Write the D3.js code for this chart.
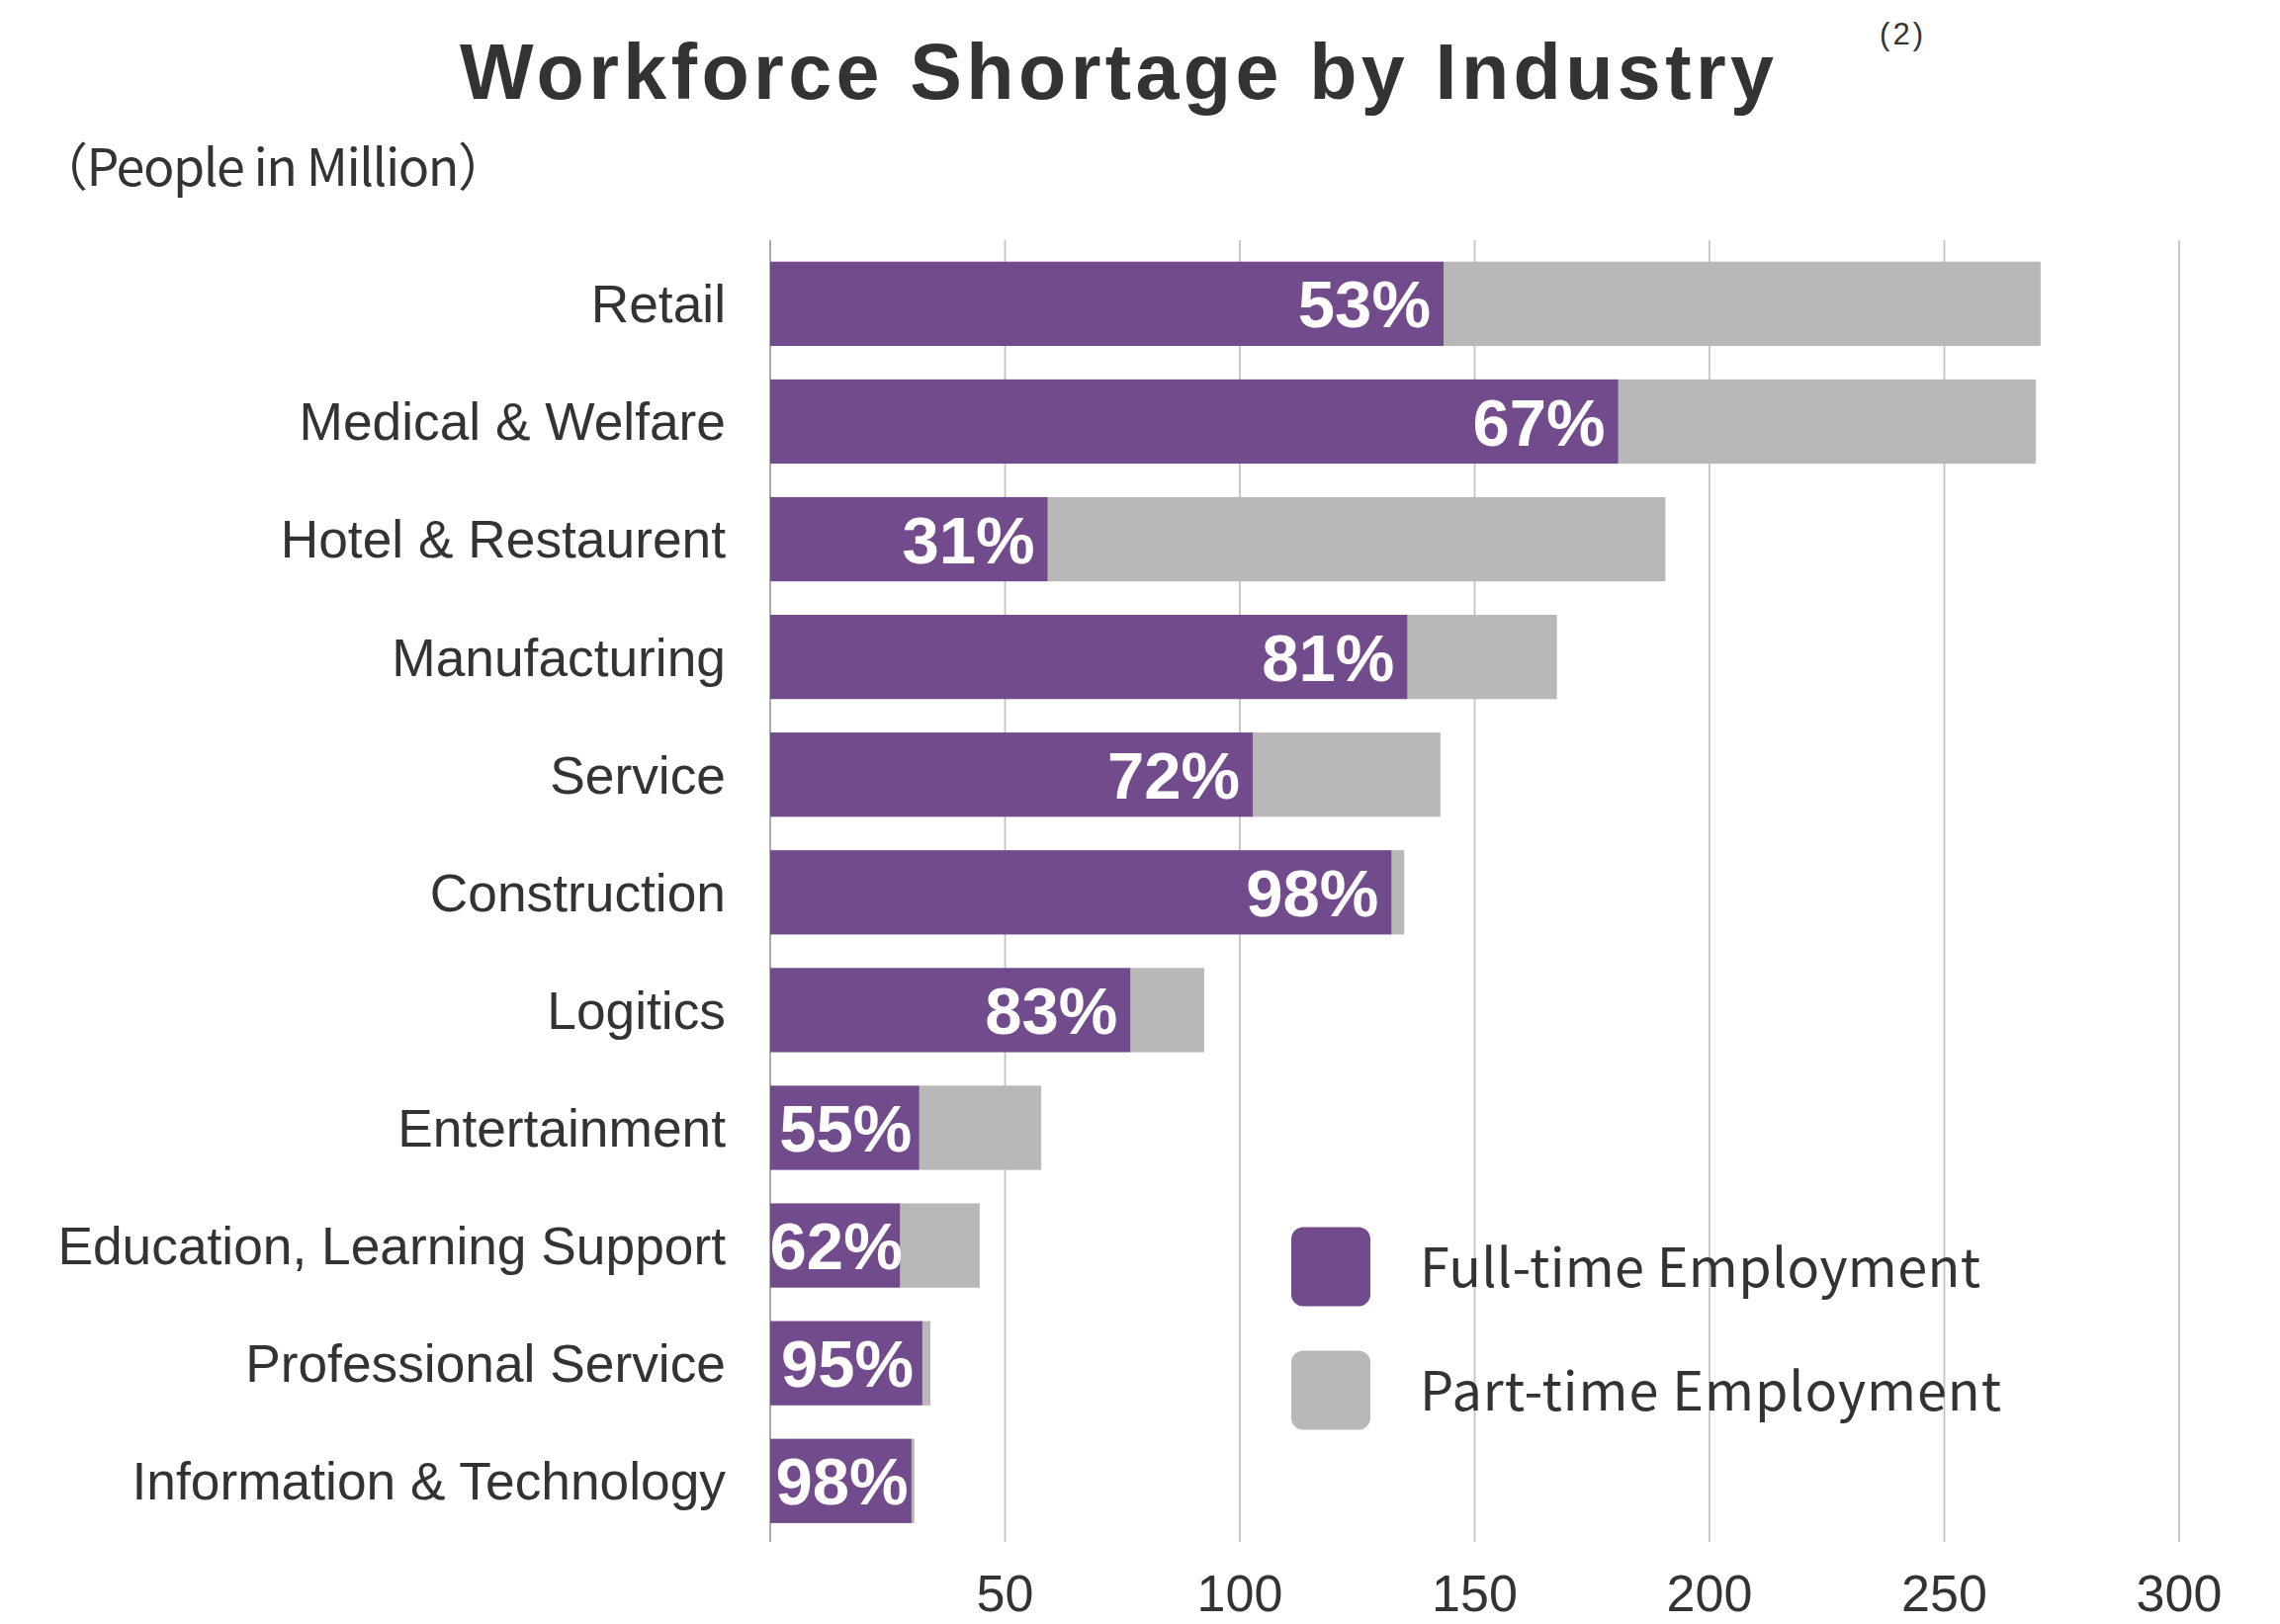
<!DOCTYPE html>
<html>
<head>
<meta charset="utf-8">
<script src="https://cdn.jsdelivr.net/npm/d3@7"></script>
<style>
  html, body { margin: 0; padding: 0; background: #ffffff; }
  svg { display: block; }
</style>
</head>
<body>
<svg id="chart" width="2306" height="1643"></svg>
<script>
// Workforce shortage by industry: total shortage (millions) and full-time share (%)
const industries = [
  "Retail", "Medical & Welfare", "Hotel & Restaurent", "Manufacturing", "Service",
  "Construction", "Logitics", "Entertainment", "Education, Learning Support",
  "Professional Service", "Information & Technology"
];
const totalShortage = [270.5, 269.5, 190.6, 167.5, 142.7, 135.0, 92.4, 57.7, 44.6, 34.1, 30.7];
const fullTimeShare = [53, 67, 31, 81, 72, 98, 83, 55, 62, 95, 98];
const xTicks = [50, 100, 150, 200, 250, 300];
const seriesNames = ["Full-time Employment", "Part-time Employment"];

const purple = "#714b8c";
const grey = "#b8b8b8";
const ink = "#333333";

const rows = industries.map((name, i) => {
  const total = totalShortage[i];
  const full = total * fullTimeShare[i] / 100;
  return { name, total, full, part: total - full, share: fullTimeShare[i] };
});

const svg = d3.select("#chart");

const x = d3.scaleLinear().domain([0, 300]).range([779, 2204]);
const y = d3.scaleBand()
  .domain(industries)
  .range([247.8, 1557.8])
  .paddingInner(0.284)
  .paddingOuter(0.142);

// vertical gridlines
svg.append("g")
  .selectAll("line")
  .data(xTicks)
  .join("line")
  .attr("x1", d => x(d)).attr("x2", d => x(d))
  .attr("y1", 243).attr("y2", 1560)
  .attr("stroke", "#c4c4c4")
  .attr("stroke-width", 1.8);

// baseline
svg.append("line")
  .attr("x1", x(0)).attr("x2", x(0))
  .attr("y1", 243).attr("y2", 1560)
  .attr("stroke", "#aaaaaa")
  .attr("stroke-width", 2);

// stacked bars
const bars = svg.append("g");
bars.selectAll("rect.part")
  .data(rows)
  .join("rect")
  .attr("class", "part")
  .attr("x", d => x(d.full))
  .attr("y", d => y(d.name))
  .attr("width", d => x(d.total) - x(d.full))
  .attr("height", y.bandwidth())
  .attr("fill", grey);

bars.selectAll("rect.full")
  .data(rows)
  .join("rect")
  .attr("class", "full")
  .attr("x", x(0))
  .attr("y", d => y(d.name))
  .attr("width", d => x(d.full) - x(0))
  .attr("height", y.bandwidth())
  .attr("fill", purple);

// share labels inside the full-time segment
svg.append("g")
  .selectAll("text")
  .data(rows)
  .join("text")
  .attr("x", d => {
    const w = x(d.full) - x(0);
    return w > 200 ? x(d.full) - 13 : x(0) + w / 2 + 1;
  })
  .attr("text-anchor", d => (x(d.full) - x(0)) > 200 ? "end" : "middle")
  .attr("y", d => y(d.name) + y.bandwidth() / 2)
  .attr("dy", "0.36em")
  .attr("fill", "#ffffff")
  .attr("font-family", "'Liberation Sans', Arial, sans-serif")
  .attr("font-weight", "bold")
  .attr("font-size", 67)
  .text(d => d.share + "%");

// category labels
svg.append("g")
  .selectAll("text")
  .data(rows)
  .join("text")
  .attr("x", x(0) - 45)
  .attr("y", d => y(d.name) + y.bandwidth() / 2)
  .attr("dy", "0.355em")
  .attr("text-anchor", "end")
  .attr("fill", ink)
  .attr("font-family", "'Liberation Sans', Arial, sans-serif")
  .attr("font-size", 53.3)
  .text(d => d.name);

// x axis labels
svg.append("g")
  .selectAll("text")
  .data(xTicks)
  .join("text")
  .attr("x", d => x(d))
  .attr("y", 1630)
  .attr("text-anchor", "middle")
  .attr("fill", ink)
  .attr("font-family", "'Liberation Sans', Arial, sans-serif")
  .attr("font-size", 52)
  .text(d => d);

// title, note marker and unit
svg.append("text")
  .attr("x", 465)
  .attr("y", 100)
  .attr("fill", ink)
  .attr("font-family", "'Liberation Sans', Arial, sans-serif")
  .attr("font-weight", "bold")
  .attr("font-size", 79)
  .attr("textLength", 1329)
  .attr("lengthAdjust", "spacing")
  .text("Workforce Shortage by Industry");

svg.append("text")
  .attr("x", 1901)
  .attr("y", 45)
  .attr("fill", ink)
  .attr("font-family", "'Liberation Sans', Arial, sans-serif")
  .attr("font-size", 31)
  .attr("textLength", 44)
  .attr("lengthAdjust", "spacing")
  .text("(2)");

svg.append("text")
  .attr("x", 37)
  .attr("y", 188)
  .attr("fill", ink)
  .attr("font-family", "'Noto Sans CJK JP', 'Noto Sans', sans-serif")
  .attr("font-size", 52)
  .attr("textLength", 478)
  .attr("lengthAdjust", "spacing")
  .text("（People in Million）");

// legend
const legend = svg.append("g");
const legendColors = [purple, grey];
const legendTop = [1241.5, 1366.5];
const legendWidths = [567, 588];
legend.selectAll("rect")
  .data(seriesNames)
  .join("rect")
  .attr("x", 1306)
  .attr("y", (d, i) => legendTop[i])
  .attr("width", 80)
  .attr("height", 80)
  .attr("rx", 12)
  .attr("fill", (d, i) => legendColors[i]);

legend.selectAll("text")
  .data(seriesNames)
  .join("text")
  .attr("x", 1436)
  .attr("y", (d, i) => legendTop[i] + 60)
  .attr("fill", ink)
  .attr("font-family", "'Noto Sans CJK JP', 'Noto Sans', sans-serif")
  .attr("font-size", 54)
  .attr("textLength", (d, i) => legendWidths[i])
  .attr("lengthAdjust", "spacing")
  .text(d => d);
</script>
</body>
</html>
